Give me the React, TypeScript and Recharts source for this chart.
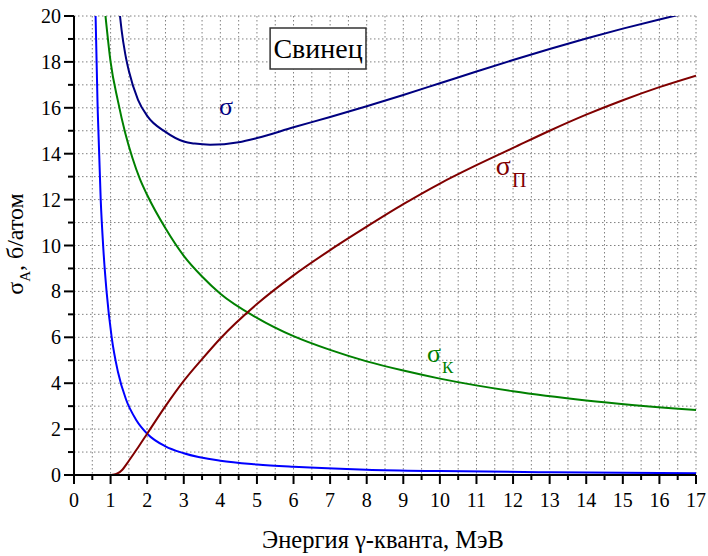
import React from 'react'
import { LineChart, Line, XAxis, YAxis, CartesianGrid, ReferenceArea, ReferenceDot } from 'recharts'

const FONT = '"Liberation Serif", "Times New Roman", serif'

// фотоэффект (синяя)
const photoE = [0.5, 0.59, 0.65, 0.73, 0.8, 0.89, 1.03, 1.2, 1.42, 1.7, 2.0, 2.5, 3.0, 4.0, 5.0, 6.0, 8.0, 10, 13, 17]
const photoS = [32, 20, 15.8, 12, 9.9, 8.0, 6.0, 4.5, 3.3, 2.4, 1.8, 1.25, 0.95, 0.62, 0.46, 0.36, 0.23, 0.17, 0.12, 0.08]

// комптон-эффект (зелёная)
const comptonE = [0.7, 0.8, 0.9, 1.0, 1.2, 1.4, 1.6, 1.8, 2.0, 2.5, 3.0, 3.5, 4.0, 5.0, 6.0, 7.0, 8.0, 9.0, 10, 12, 14, 17]
const comptonS = [23.0, 21.0, 19.4, 18.0, 16.3, 14.9, 13.8, 12.9, 12.2, 10.75, 9.55, 8.65, 7.9, 6.85, 6.05, 5.45, 4.95, 4.55, 4.2, 3.65, 3.25, 2.83]

// образование пар (бордовая)
const pairE = [0, 1.02, 1.1, 1.2, 1.3, 1.5, 1.75, 2.0, 2.5, 3.0, 3.5, 4.0, 5.0, 6.0, 7.0, 8.0, 9.0, 10, 11, 12, 13, 14, 15, 16, 17]
const pairS = [0, 0, 0.02, 0.08, 0.2, 0.62, 1.2, 1.8, 3.0, 4.1, 5.05, 5.95, 7.45, 8.7, 9.8, 10.82, 11.8, 12.7, 13.5, 14.25, 15.0, 15.7, 16.33, 16.9, 17.4]

// полное сечение (тёмно-синяя)
const totalE = [1.1, 1.2, 1.3, 1.4, 1.5, 1.75, 2.0, 2.5, 3.0, 3.3, 3.72, 4.5, 5.0, 6.0, 7.0, 8.0, 9.0, 10, 11, 12, 13, 14, 15, 16, 17]
const totalS = [23.6, 21.0, 19.4, 18.35, 17.6, 16.35, 15.65, 14.95, 14.53, 14.44, 14.39, 14.5, 14.68, 15.15, 15.6, 16.07, 16.56, 17.07, 17.58, 18.08, 18.56, 19.02, 19.45, 19.85, 20.23]

const xMajor = [0, 1, 2, 3, 4, 5, 6, 7, 8, 9, 10, 11, 12, 13, 14, 15, 16, 17]
const xMinor = [0.5, 1.5, 2.5, 3.5, 4.5, 5.5, 6.5, 7.5, 8.5, 9.5, 10.5, 11.5, 12.5, 13.5, 14.5, 15.5, 16.5]
const yMajor = [0, 2, 4, 6, 8, 10, 12, 14, 16, 18, 20]
const yMinor = [1, 3, 5, 7, 9, 11, 13, 15, 17, 19]

const xTicks = [...xMajor, ...xMinor].sort((a, b) => a - b)
const yTicks = [...yMajor, ...yMinor].sort((a, b) => a - b)

const toPoints = (es: number[], ss: number[]) => es.map((e, i) => ({ e, s: ss[i] }))
const photo = toPoints(photoE, photoS)
const compton = toPoints(comptonE, comptonS)
const pair = toPoints(pairE, pairS)
const total = toPoints(totalE, totalS)

function BottomTick({ x, y, payload }: any) {
  const major = xMajor.includes(payload.value)
  return (
    <g>
      <line x1={x} y1={y} x2={x} y2={y + (major ? 9 : 5)} stroke="#000" strokeWidth={2} />
      {major && (
        <text x={x} y={y + 32} textAnchor="middle" fontSize={20} fontFamily={FONT} fill="#000">
          {payload.value}
        </text>
      )}
    </g>
  )
}

function TopTick({ x, y, payload }: any) {
  const major = xMajor.includes(payload.value)
  return <line x1={x} y1={y} x2={x} y2={y + (major ? 10 : 6)} stroke="#000" strokeWidth={2} />
}

function LeftTick({ x, y, payload }: any) {
  const major = yMajor.includes(payload.value)
  return (
    <g>
      <line x1={x} y1={y} x2={x - (major ? 10 : 6)} y2={y} stroke="#000" strokeWidth={2} />
      {major && (
        <text x={x - 13} y={y} dy="0.35em" textAnchor="end" fontSize={20} fontFamily={FONT} fill="#000">
          {payload.value}
        </text>
      )}
    </g>
  )
}

function RightTick({ x, y, payload }: any) {
  const major = yMajor.includes(payload.value)
  return <line x1={x} y1={y} x2={x - (major ? 11 : 6)} y2={y} stroke="#000" strokeWidth={2} />
}

function YTitle({ viewBox }: any) {
  const cx = viewBox.x + 23
  const cy = viewBox.y + 228
  return (
    <text transform={`rotate(-90 ${cx} ${cy})`} x={cx} y={cy} textAnchor="middle" fontSize={24} fontFamily={FONT} fill="#000">
      <tspan>σ</tspan>
      <tspan dy={7} fontSize={15}>A</tspan>
      <tspan dy={-7}>, б/атом</tspan>
    </text>
  )
}

function XTitle({ viewBox }: any) {
  return (
    <text x={viewBox.x + viewBox.width / 2 - 2} y={viewBox.y + 73} textAnchor="middle" fontSize={24.5} fontFamily={FONT} fill="#000">
      Энергия γ-кванта, МэВ
    </text>
  )
}

const sigma = (sub: string, color: string, size: number, subSize: number, subDy: number) => (p: any) => (
  <text x={p.cx} y={p.cy} fill={color} fontSize={size} fontFamily={FONT}>
    σ
    {sub && (
      <tspan dy={subDy} dx={1} fontSize={subSize}>
        {sub}
      </tspan>
    )}
  </text>
)

export default function App() {
  return (
    <div style={{ position: 'absolute', left: 0, top: 0, width: 708, height: 556, background: '#fff' }}>
      <LineChart width={708} height={556} margin={{ top: 16, right: 12, bottom: 0, left: 0 }}>
        <CartesianGrid stroke="#808080" strokeDasharray="1.5 2.5" strokeWidth={1} />

        <XAxis
          dataKey="e"
          type="number"
          domain={[0, 17]}
          ticks={xTicks}
          interval={0}
          allowDataOverflow
          height={81}
          tickSize={0}
          tickMargin={0}
          tickLine={false}
          tick={<BottomTick />}
          axisLine={{ stroke: '#000', strokeWidth: 2 }}
          label={<XTitle />}
        />
        <XAxis
          xAxisId="top"
          orientation="top"
          dataKey="e"
          type="number"
          domain={[0, 17]}
          ticks={xTicks}
          interval={0}
          allowDataOverflow
          height={0}
          tickSize={0}
          tickMargin={0}
          tickLine={false}
          tick={<TopTick />}
          axisLine={{ stroke: '#000', strokeWidth: 2 }}
        />
        <YAxis
          type="number"
          domain={[0, 20]}
          ticks={yTicks}
          interval={0}
          allowDataOverflow
          width={74}
          tickSize={0}
          tickMargin={0}
          tickLine={false}
          tick={<LeftTick />}
          axisLine={{ stroke: '#000', strokeWidth: 2 }}
          label={<YTitle />}
        />
        <YAxis
          yAxisId="right"
          orientation="right"
          type="number"
          domain={[0, 20]}
          ticks={yTicks}
          interval={0}
          allowDataOverflow
          width={0}
          tickSize={0}
          tickMargin={0}
          tickLine={false}
          tick={<RightTick />}
          axisLine={{ stroke: '#000', strokeWidth: 2 }}
        />

        <ReferenceArea
          x1={5.36}
          x2={7.98}
          y1={17.69}
          y2={19.48}
          fill="#fff"
          fillOpacity={1}
          stroke="#333"
          strokeWidth={1.5}
          label={{ value: 'Свинец', position: 'center', fontSize: 28, fill: '#000', fontFamily: FONT }}
        />

        <Line data={photo} dataKey="s" type="monotone" stroke="#0000ff" strokeWidth={2} dot={false} isAnimationActive={false} />
        <Line data={compton} dataKey="s" type="monotone" stroke="#008000" strokeWidth={2} dot={false} isAnimationActive={false} />
        <Line data={pair} dataKey="s" type="monotone" stroke="#800000" strokeWidth={2} dot={false} isAnimationActive={false} />
        <Line data={total} dataKey="s" type="monotone" stroke="#000080" strokeWidth={2} dot={false} isAnimationActive={false} />

        <ReferenceDot x={3.96} y={15.69} r={1} shape={sigma('', '#000080', 26, 0, 0)} />
        <ReferenceDot x={11.53} y={13.07} r={1} shape={sigma('П', '#800000', 28, 20, 12)} />
        <ReferenceDot x={9.65} y={4.92} r={1} shape={sigma('К', '#008000', 26, 17, 11)} />
      </LineChart>
    </div>
  )
}
